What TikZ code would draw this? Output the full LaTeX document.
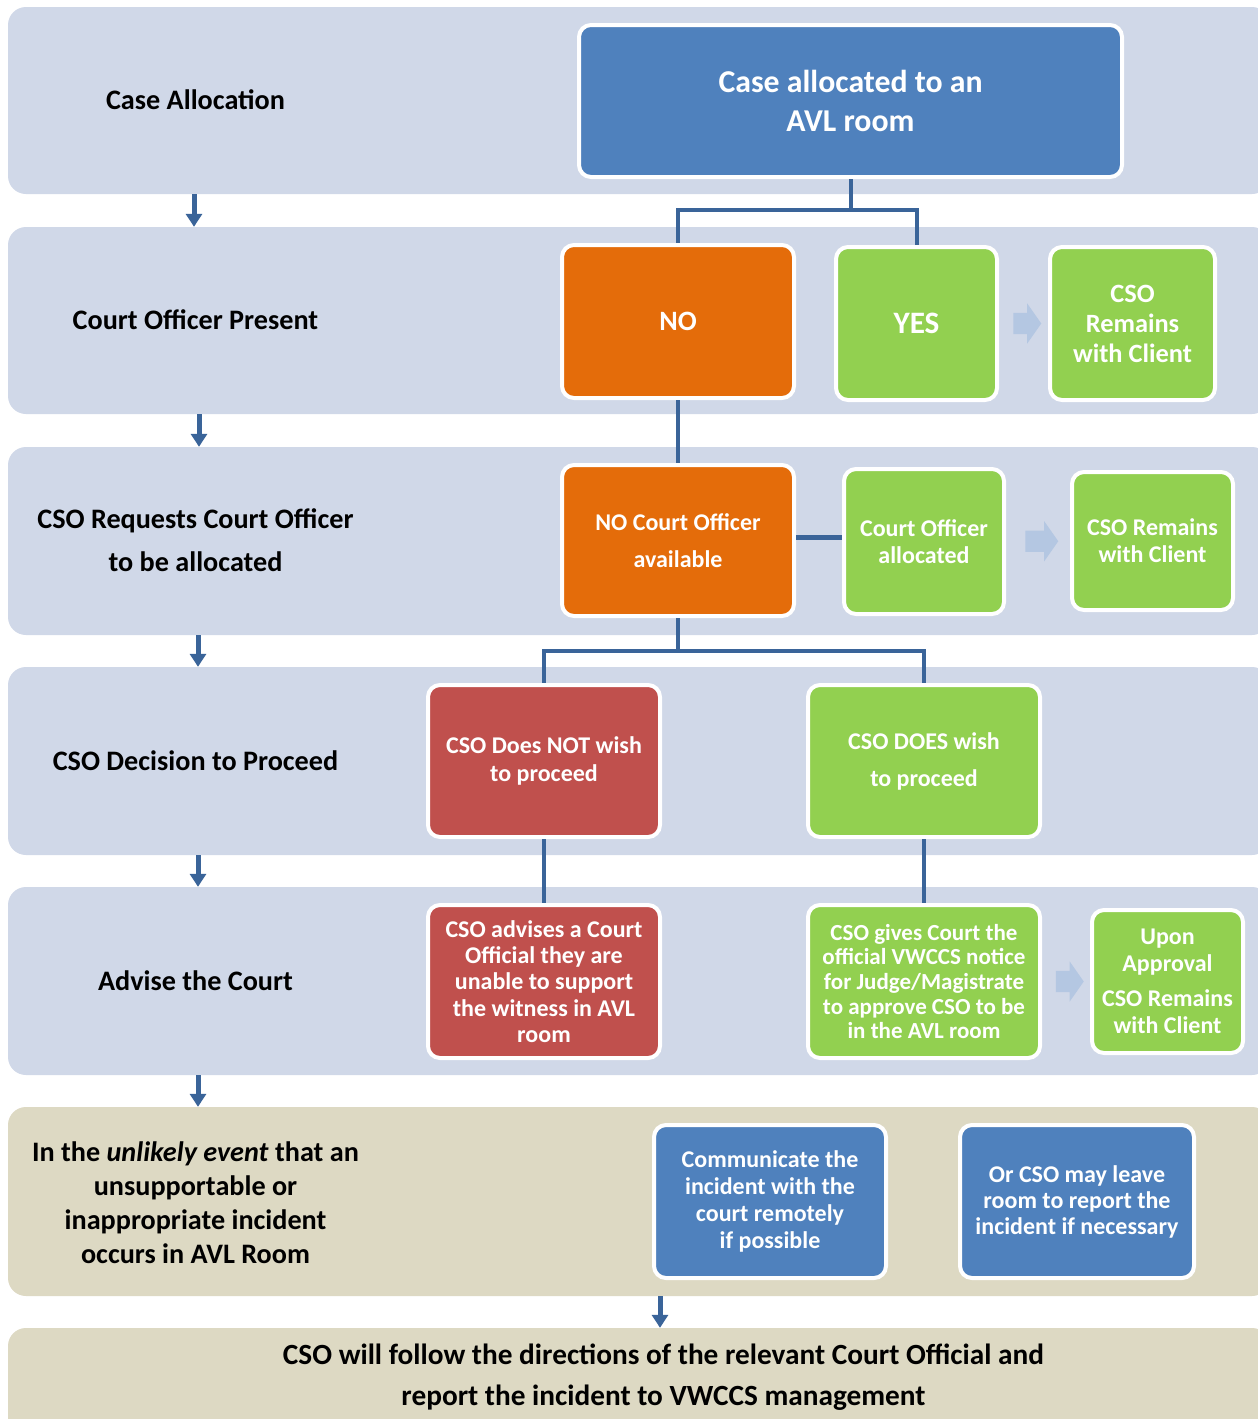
\documentclass[tikz,border=0pt]{standalone}
\usepackage{fontspec}
\setmainfont{Carlito}
\usetikzlibrary{shapes.arrows,arrows.meta,calc}
\definecolor{bandblue}{HTML}{D0D8E8}
\definecolor{bandbeige}{HTML}{DDD9C3}
\definecolor{boxblue}{HTML}{4F81BD}
\definecolor{boxorange}{HTML}{E46C0A}
\definecolor{boxgreen}{HTML}{92D050}
\definecolor{boxred}{HTML}{C0504D}
\definecolor{linkblue}{HTML}{3A6499}
\definecolor{lightarr}{HTML}{B4C7E2}
\newcommand{\fs}[2]{\fontsize{#1}{#2}\selectfont\bfseries}
\begin{document}
\begin{tikzpicture}[x=1pt,y=-1pt,
  band/.style={fill=#1,rounded corners=18pt,minimum width=1262pt,inner sep=0pt},
  fbox/.style={fill=#1,draw=white,line width=4pt,rounded corners=12pt,inner sep=0pt,align=center,text=white},
  lbl/.style={align=center,text=black,inner sep=0pt},
  link/.style={draw=linkblue,line width=4pt},
  downarr/.style={draw=linkblue,line width=5pt,-{Triangle[width=16pt,length=13pt]}},
  larr/.style={single arrow,fill=lightarr,inner xsep=0pt,inner ysep=10.5pt,single arrow head extend=9.5pt,single arrow tip angle=110,minimum height=28pt}
]
\useasboundingbox (0,0) rectangle (1258,1419);
\fill[white] (0,0) rectangle (1258,1419);
% bands
\node[band=bandblue,minimum height=187pt] (b1) at (639,100.5) {};
\node[band=bandblue,minimum height=187pt] (b2) at (639,320.5) {};
\node[band=bandblue,minimum height=188pt] (b3) at (639,541) {};
\node[band=bandblue,minimum height=188pt] (b4) at (639,761) {};
\node[band=bandblue,minimum height=188pt] (b5) at (639,981) {};
\node[band=bandbeige,minimum height=189pt] (b6) at (639,1201.5) {};
\node[band=bandbeige,minimum height=112pt] (b7) at (639,1384) {};
% band arrows
\draw[downarr] (b1.south -| 194,0) -- (b2.north -| 194,0);
\draw[downarr] (b2.south -| 199,0) -- (b3.north -| 199,0);
\draw[downarr] (b3.south -| 198,0) -- (b4.north -| 198,0);
\draw[downarr] (b4.south -| 198,0) -- (b5.north -| 198,0);
\draw[downarr] (b5.south -| 198,0) -- (b6.north -| 198,0);
\draw[downarr] (b6.south -| 660,0) -- (b7.north -| 660,0);
% left labels
\node[lbl,font=\fs{28.2}{30}] (l1) at (195.5,100) {Case Allocation};
\node[lbl,font=\fs{28.2}{30}] (l2) at (195.5,320) {Court Officer Present};
\node[lbl,font=\fs{28.2}{43}] (l3) at (195.5,540.5) {CSO Requests Court Officer\\to be allocated};
\node[lbl,font=\fs{28.2}{30}] (l4) at (195.5,761) {CSO Decision to Proceed};
\node[lbl,font=\fs{28.2}{30}] (l5) at (195.5,981) {Advise the Court};
\node[lbl,font=\fs{28.2}{34}] (l6) at (195.5,1202.5) {In the \textit{unlikely event} that an\\unsupportable or\\inappropriate incident\\occurs in AVL Room};
\node[lbl,font=\fs{29.3}{41}] (l7) at (663.5,1377.5) {CSO will follow the directions of the relevant Court Official and\\report the incident to VWCCS management};
% boxes
\node[fbox=boxblue,minimum width=543pt,minimum height=152pt,font=\fs{31.8}{39}] (top) at (850.5,101) {Case allocated to an\\AVL room};
\node[fbox=boxorange,minimum width=232pt,minimum height=153pt,font=\fs{28}{30}] (no) at (678,321.5) {NO};
\node[fbox=boxgreen,minimum width=161pt,minimum height=153pt,font=\fs{31.2}{30}] (yes) at (916.5,323.5) {YES};
\node[fbox=boxgreen,minimum width=165pt,minimum height=153pt,font=\fs{26.4}{30}] (cso1) at (1132.5,323.5) {CSO\\Remains\\with Client};
\node[fbox=boxorange,minimum width=232pt,minimum height=151pt,font=\fs{24}{37}] (noco) at (678,540.5) {NO Court Officer\\available};
\node[fbox=boxgreen,minimum width=160pt,minimum height=145pt,font=\fs{24}{27}] (coa) at (924,541.5) {Court Officer\\allocated};
\node[fbox=boxgreen,minimum width=161pt,minimum height=138pt,font=\fs{24}{27}] (cso2) at (1152.5,541) {CSO Remains\\with Client};
\node[fbox=boxred,minimum width=232pt,minimum height=152pt,font=\fs{24}{28}] (not) at (544,761) {CSO Does NOT wish\\to proceed};
\node[fbox=boxgreen,minimum width=232pt,minimum height=152pt,font=\fs{24}{37}] (does) at (924,761) {CSO DOES wish\\to proceed};
\node[fbox=boxred,minimum width=232pt,minimum height=153pt,font=\fs{24}{26.2}] (adv) at (544,981.5) {CSO advises a Court\\Official they are\\unable to support\\the witness in AVL\\room};
\node[fbox=boxgreen,minimum width=232pt,minimum height=153pt,font=\fs{23}{24.7}] (gives) at (924,981.5) {CSO gives Court the\\official VWCCS notice\\for Judge/Magistrate\\to approve CSO to be\\in the AVL room};
\node[fbox=boxgreen,minimum width=151pt,minimum height=143pt,font=\fs{24}{26.5}] (upon) at (1167.5,981.5) {Upon\\Approval\\[9pt]CSO Remains\\with Client};
\node[fbox=boxblue,minimum width=232pt,minimum height=153pt,font=\fs{24}{26.7}] (comm) at (770,1201.5) {Communicate the\\incident with the\\court remotely\\if possible};
\node[fbox=boxblue,minimum width=234pt,minimum height=153pt,font=\fs{24}{26}] (leave) at (1077,1201.5) {Or CSO may leave\\room to report the\\incident if necessary};
% connectors
\draw[link] (top.south) -- ++(0,31) coordinate (j1) -| (no.north);
\draw[link] (j1) -| (yes.north);
\draw[link] (no.south) -- (noco.north);
\draw[link,line width=5pt] (noco.east |- 0,537) -- (coa.west |- 0,537);
\draw[link] (noco.south) -- ++(0,33) coordinate (j2) -| (not.north);
\draw[link] (j2) -| (does.north);
\draw[link] (not.south) -- (adv.north);
\draw[link] (does.south) -- (gives.north);
% light arrows
\node[larr] (a1) at ($(yes.east)!0.5!(cso1.west)$) {};
\node[larr,minimum height=33pt] (a2) at ($(coa.east)!0.5!(cso2.west)$) {};
\node[larr] (a3) at ($(gives.east)!0.5!(upon.west)$) {};
\end{tikzpicture}
\end{document}
